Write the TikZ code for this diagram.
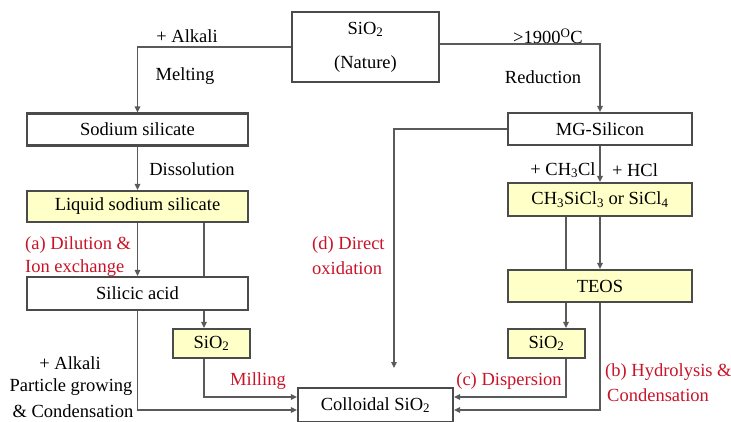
\documentclass[tikz,border=0pt]{standalone}
\usepackage{fontspec}
\newfontfamily\tms{Liberation Serif}
\usetikzlibrary{arrows.meta}
\definecolor{boxc}{RGB}{75,75,75}
\definecolor{linec}{RGB}{90,90,90}
\definecolor{yel}{RGB}{255,255,200}
\definecolor{redt}{RGB}{200,20,40}
\begin{document}
\begin{tikzpicture}[x=1pt,y=-1pt,
  font=\tms\fontsize{18.5}{22}\selectfont,
  box/.style={draw=boxc,line width=2.1pt,fill=white,inner sep=0pt},
  ybox/.style={box,fill=yel},
  lbl/.style={inner sep=0pt},
  rlbl/.style={inner sep=0pt,text=redt},
  conn/.style={draw=linec,line width=1.8pt},
  arr/.style={conn,-{Triangle[length=6pt,width=5.5pt]}}]
\useasboundingbox (0,0) rectangle (731,421);
% boxes
\node[box,minimum width=147,minimum height=70,align=center] (nat) at (365.5,47) {SiO\textsubscript{2}\\[12pt](Nature)};
\node[box,minimum width=221,minimum height=32] (sod) at (137.5,129.5) {Sodium silicate};
\node[ybox,minimum width=221,minimum height=31] (liq) at (137.5,206.5) {Liquid sodium silicate};
\node[box,minimum width=221,minimum height=33] (sil) at (137.5,293.5) {Silicic acid};
\node[ybox,minimum width=77,minimum height=29] (sl) at (211.5,343.5) {SiO\textsubscript{2}};
\node[box,minimum width=184,minimum height=32] (mg) at (600,129) {MG-Silicon};
\node[ybox,minimum width=184,minimum height=33] (chs) at (600,199.5) {CH\textsubscript{3}SiCl\textsubscript{3} or SiCl\textsubscript{4}};
\node[ybox,minimum width=184,minimum height=32] (teos) at (600,286) {TEOS};
\node[ybox,minimum width=77,minimum height=29] (sr) at (546.5,343.5) {SiO\textsubscript{2}};
\node[box,minimum width=155,minimum height=34] (col) at (375.5,405) {Colloidal SiO\textsubscript{2}};
% helper coordinates
\coordinate (xl) at (204,0);
\coordinate (xr) at (566,0);
\coordinate (dend) at (394,368);
\coordinate (ya) at (0,397);
\coordinate (yb) at (0,410);
% labels
\node[lbl] (l1) at (187,36) {+ Alkali};
\node[lbl] (l2) at (185,76) {Melting};
\node[lbl] (l3) at (548,36) {>1900\textsuperscript{O}C};
\node[lbl] (l4) at (543,77) {Reduction};
\node[lbl] (l5) at (192,169) {Dissolution};
\node[rlbl,anchor=west] (l6) at (25,245) {(a) Dilution \&};
\node[rlbl,anchor=west] (l7) at (25,268) {Ion exchange};
\node[rlbl,anchor=west] (l8) at (312,245) {(d) Direct};
\node[rlbl,anchor=west] (l9) at (312,268) {oxidation};
\node[lbl] (l10) at (563,170) {+ CH\textsubscript{3}Cl};
\node[lbl] (l11) at (635,170) {+ HCl};
\node[lbl] (l12) at (70,363) {+ Alkali};
\node[lbl] (l13) at (71,387) {Particle growing};
\node[lbl] (l14) at (73,411) {\& Condensation};
\node[rlbl] (l15) at (258,381) {Milling};
\node[rlbl] (l16) at (509,381) {(c) Dispersion};
\node[rlbl,anchor=west] (l17) at (605,372) {(b) Hydrolysis \&};
\node[rlbl,anchor=west] (l18) at (607,395) {Condensation};
% connectors
\draw[arr] (nat.west) -| (sod.north);
\draw[arr] ([yshift=3pt]nat.east) -| (mg.north);
\draw[arr] (sod.south) -- (liq.north);
\draw[arr] (liq.south) -- (sil.north);
\draw[conn] (liq.south -| xl) -- (sil.north -| xl);
\draw[arr] (sil.south -| xl) -- (sl.north -| xl);
\draw[arr] (sil.south) |- (col.west |- yb);
\draw[arr] (sl.south -| xl) |- (col.west |- ya);
\draw[arr] (mg.west) -| (dend);
\draw[arr] (mg.south) -- (chs.north);
\draw[arr] (chs.south) -- (teos.north);
\draw[conn] (chs.south -| xr) -- (teos.north -| xr);
\draw[arr] (teos.south -| xr) -- (sr.north -| xr);
\draw[arr] (sr.south -| xr) |- (col.east |- ya);
\draw[arr] (teos.south) |- (col.east |- yb);
\end{tikzpicture}
\end{document}
